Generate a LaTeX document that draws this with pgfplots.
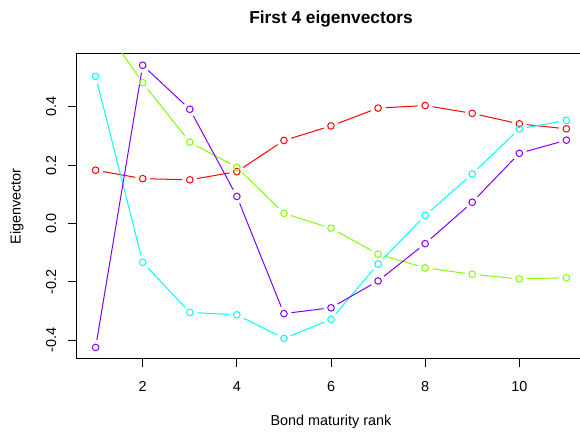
\documentclass[border=0pt]{standalone}
\usepackage{pgfplots}
\pgfplotsset{compat=1.18}
\usepackage{fontspec}
\setmainfont{Liberation Sans}
\definecolor{cA}{HTML}{FF0000}
\definecolor{cB}{HTML}{80FF00}
\definecolor{cC}{HTML}{00FFFF}
\definecolor{cD}{HTML}{8000FF}
\newcommand{\seg}[5]{\addplot[#1, line width=1pt, shorten >=7.5pt, shorten <=7.5pt, forget plot] coordinates {(#2,#3) (#4,#5)};}
\begin{document}
\begin{tikzpicture}[x=1pt,y=1pt]
\useasboundingbox (0,0) rectangle (580,431);
\begin{axis}[at={(76.8pt,72.3pt)}, anchor=south west, scale only axis,
  width=508.4pt, height=304.7pt,
  xmin=0.6, xmax=11.4, ymin=-0.4637, ymax=0.5817,
  xtick={2,4,6,8,10}, ytick={-0.4,-0.2,0,0.2,0.4},
  yticklabels={-0.4,-0.2,0.0,0.2,0.4},
  xtick pos=left, ytick pos=left, tick align=outside,
  major tick length=8.6pt,
  axis line style={line width=1pt, black},
  every tick/.style={black, line width=1pt},
  tick label style={font=\fontsize{14.4}{17}\selectfont},
  /pgf/number format/assume math mode=true,
  xticklabel style={anchor=base, yshift=-24pt},
  yticklabel style={rotate=90, anchor=base, yshift=12pt},
  clip=true]
% red
\seg{cA}{1}{0.183}{2}{0.154}
\seg{cA}{2}{0.154}{3}{0.150}
\seg{cA}{3}{0.150}{4}{0.178}
\seg{cA}{4}{0.178}{5}{0.285}
\seg{cA}{5}{0.285}{6}{0.335}
\seg{cA}{6}{0.335}{7}{0.396}
\seg{cA}{7}{0.396}{8}{0.405}
\seg{cA}{8}{0.405}{9}{0.378}
\seg{cA}{9}{0.378}{10}{0.342}
\seg{cA}{10}{0.342}{11}{0.325}
\addplot[only marks, mark=o, mark size=3.3pt, cA, mark options={line width=1pt}] coordinates {
(1,0.183) (2,0.154) (3,0.150) (4,0.178) (5,0.285) (6,0.335) (7,0.396) (8,0.405) (9,0.378) (10,0.342) (11,0.325)};
% green
\seg{cB}{1}{0.715}{2}{0.483}
\seg{cB}{2}{0.483}{3}{0.279}
\seg{cB}{3}{0.279}{4}{0.193}
\seg{cB}{4}{0.193}{5}{0.035}
\seg{cB}{5}{0.035}{6}{-0.016}
\seg{cB}{6}{-0.016}{7}{-0.105}
\seg{cB}{7}{-0.105}{8}{-0.152}
\seg{cB}{8}{-0.152}{9}{-0.174}
\seg{cB}{9}{-0.174}{10}{-0.190}
\seg{cB}{10}{-0.190}{11}{-0.186}
\addplot[only marks, mark=o, mark size=3.3pt, cB, mark options={line width=1pt}] coordinates {
(1,0.715) (2,0.483) (3,0.279) (4,0.193) (5,0.035) (6,-0.016) (7,-0.105) (8,-0.152) (9,-0.174) (10,-0.190) (11,-0.186)};
% cyan
\seg{cC}{1}{0.505}{2}{-0.133}
\seg{cC}{2}{-0.133}{3}{-0.305}
\seg{cC}{3}{-0.305}{4}{-0.313}
\seg{cC}{4}{-0.313}{5}{-0.394}
\seg{cC}{5}{-0.394}{6}{-0.329}
\seg{cC}{6}{-0.329}{7}{-0.139}
\seg{cC}{7}{-0.139}{8}{0.028}
\seg{cC}{8}{0.028}{9}{0.170}
\seg{cC}{9}{0.170}{10}{0.325}
\seg{cC}{10}{0.325}{11}{0.354}
\addplot[only marks, mark=o, mark size=3.3pt, cC, mark options={line width=1pt}] coordinates {
(1,0.505) (2,-0.133) (3,-0.305) (4,-0.313) (5,-0.394) (6,-0.329) (7,-0.139) (8,0.028) (9,0.170) (10,0.325) (11,0.354)};
% purple
\seg{cD}{1}{-0.425}{2}{0.543}
\seg{cD}{2}{0.543}{3}{0.392}
\seg{cD}{3}{0.392}{4}{0.093}
\seg{cD}{4}{0.093}{5}{-0.309}
\seg{cD}{5}{-0.309}{6}{-0.289}
\seg{cD}{6}{-0.289}{7}{-0.197}
\seg{cD}{7}{-0.197}{8}{-0.069}
\seg{cD}{8}{-0.069}{9}{0.073}
\seg{cD}{9}{0.073}{10}{0.241}
\seg{cD}{10}{0.241}{11}{0.286}
\addplot[only marks, mark=o, mark size=3.3pt, cD, mark options={line width=1pt}] coordinates {
(1,-0.425) (2,0.543) (3,0.392) (4,0.093) (5,-0.309) (6,-0.289) (7,-0.197) (8,-0.069) (9,0.073) (10,0.241) (11,0.286)};
\end{axis}
\node[anchor=base, font=\fontsize{17.3}{20}\selectfont\bfseries] at (331,407.7) {First 4 eigenvectors};
\node[anchor=base, font=\fontsize{14.4}{17}\selectfont] at (331,5.3) {Bond maturity rank};
\node[anchor=base, rotate=90, font=\fontsize{14.4}{17}\selectfont] at (20.7,224.6) {Eigenvector};
\end{tikzpicture}
\end{document}
